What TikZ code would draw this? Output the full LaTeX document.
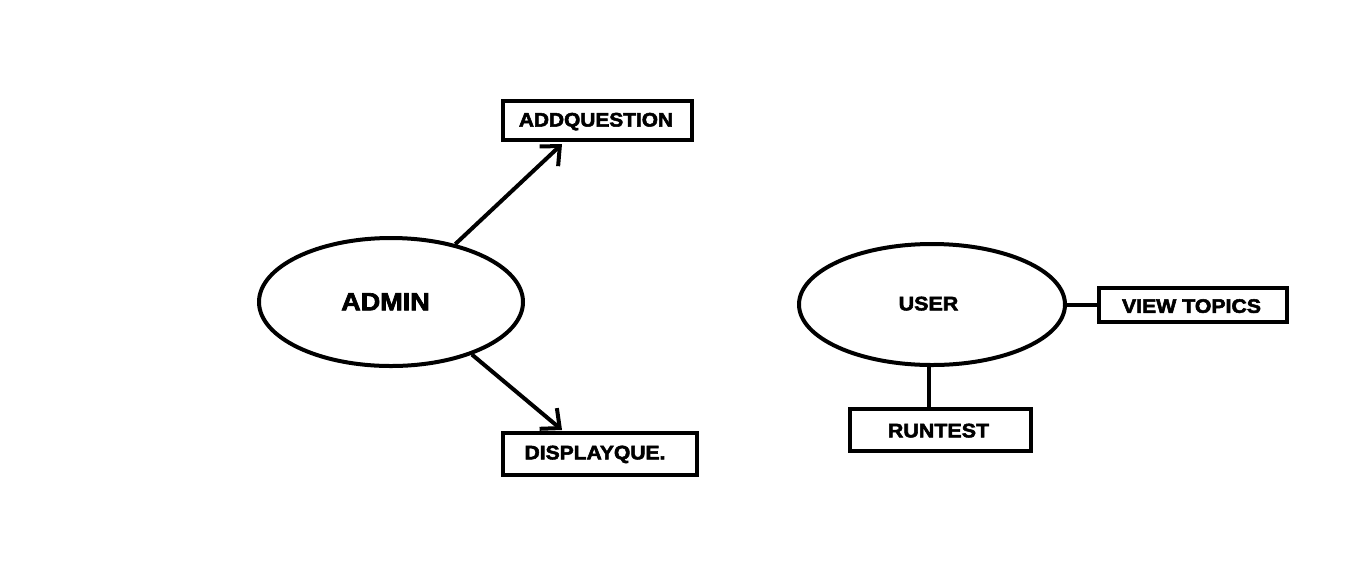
\documentclass[tikz,border=0pt]{standalone}
\usepackage{fontspec}
\setmainfont{Liberation Sans}[BoldFeatures={FakeBold=2.6}]
\usetikzlibrary{shapes.geometric,arrows.meta,calc}
\tikzset{
  ln/.style={line width=4pt},
  oval/.style={ln, draw, ellipse, inner sep=0pt},
  box/.style={ln, draw, rectangle, inner sep=0pt},
  lbl/.style={font=\bfseries\fontsize{19.5}{20}\selectfont, inner sep=0pt, text depth=0pt},
  big/.style={font=\bfseries\fontsize{25}{26}\selectfont, inner sep=0pt, text depth=0pt},
  arr/.style={ln, -{Straight Barb[length=15pt,width=27pt,line width=4pt]}}
}
\begin{document}
\begin{tikzpicture}[x=1pt,y=-1pt]
\useasboundingbox (0,0) rectangle (1356,582);
% ADMIN side
\node[oval, minimum width=264pt, minimum height=128pt] (admin) at (391,302) {};
\node[big, xscale=1.08] (admint) at (385.5,301.7) {ADMIN};
\node[box, minimum width=189pt, minimum height=39pt] (addq) at (597.5,120.5) {};
\node[lbl, xscale=1.07] (addqt) at (596,119.7) {ADDQUESTION};
\node[box, minimum width=194pt, minimum height=42pt] (disp) at (600,454) {};
\node[lbl, xscale=1.08] (dispt) at (595,452.5) {DISPLAYQUE.};
\draw[arr] (admin.42) -- ($(addq.south west)+(61,2)$);
\draw[arr] (admin.-33.5) -- ($(disp.north west)+(61,-1)$);
% USER side
\node[oval, minimum width=266pt, minimum height=121pt] (user) at (932,304.5) {};
\node[lbl, xscale=1.1] (usert) at (928.5,303.5) {USER};
\node[box, minimum width=188pt, minimum height=34pt] (view) at (1193,305) {};
\node[lbl, xscale=1.09] (viewt) at (1191.5,306) {VIEW TOPICS};
\node[box, minimum width=181pt, minimum height=42pt] (run) at (940.5,430) {};
\node[lbl, xscale=1.1] (runt) at (938.5,430.5) {RUNTEST};
\draw[ln] (user.east) -- (user.east -| view.west);
\draw[ln] ($(user.south)+(-3,-2)$) -- ($(user.south |- run.north)+(-3,0)$);
\end{tikzpicture}
\end{document}
